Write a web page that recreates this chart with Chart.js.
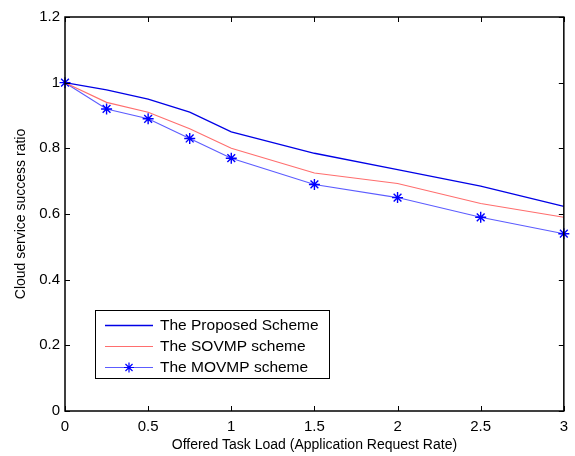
<!DOCTYPE html>
<html lang="en">
<head>
  <meta charset="UTF-8" />
  <title>Cloud service success ratio</title>
  <script src="https://cdn.jsdelivr.net/npm/chart.js"></script>
  <style>
    html, body {
      margin: 0;
      padding: 0;
      background: #fff;
    }
    .chart-wrapper {
      width: 575px;
      height: 456px;
      position: relative;
    }
  </style>
</head>
<body>
  <div class="chart-wrapper">
    <canvas id="ratioChart"></canvas>
  </div>

  <script>
    // values
    const loads = [0, 0.25, 0.5, 0.75, 1, 1.5, 2, 2.5, 3];
    const proposed = [1, 0.978, 0.95, 0.91, 0.85, 0.785, 0.735, 0.685, 0.623];
    const sovmp = [1, 0.94, 0.91, 0.86, 0.80, 0.725, 0.693, 0.632, 0.59];
    const movmp = [1, 0.92, 0.89, 0.83, 0.77, 0.69, 0.65, 0.59, 0.54];
    const xTicks = [0, 0.5, 1, 1.5, 2, 2.5, 3];
    const yTicks = [0, 0.2, 0.4, 0.6, 0.8, 1, 1.2];

    const font = "'Liberation Sans', Arial, sans-serif";

    function toPoints(ys) {
      return loads.map((x, i) => ({ x: x, y: ys[i] }));
    }

    // MATLAB-like box with inward ticks on all four sides
    const boxPlugin = {
      id: 'box',
      afterDraw(chart) {
        const { ctx, chartArea: a, scales } = chart;
        ctx.save();
        ctx.strokeStyle = '#000';
        ctx.lineWidth = 1.5;
        ctx.strokeRect(a.left, a.top, a.right - a.left, a.bottom - a.top);
        ctx.lineWidth = 1;
        ctx.beginPath();
        xTicks.forEach(v => {
          const px = Math.round(scales.x.getPixelForValue(v)) + 0.5;
          ctx.moveTo(px, a.bottom);
          ctx.lineTo(px, a.bottom - 5);
          ctx.moveTo(px, a.top);
          ctx.lineTo(px, a.top + 5);
        });
        yTicks.forEach(v => {
          const py = Math.round(scales.y.getPixelForValue(v)) + 0.5;
          ctx.moveTo(a.left, py);
          ctx.lineTo(a.left + 5, py);
          ctx.moveTo(a.right, py);
          ctx.lineTo(a.right - 5, py);
        });
        ctx.stroke();
        ctx.restore();
      }
    };

    // legend box drawn inside the plot, lower left
    const legendPlugin = {
      id: 'boxLegend',
      afterDraw(chart) {
        const { ctx } = chart;
        const bx = 95, by = 310, bw = 234, bh = 68;
        ctx.save();
        ctx.fillStyle = '#fff';
        ctx.fillRect(bx, by, bw, bh);
        ctx.strokeStyle = '#000';
        ctx.lineWidth = 1;
        ctx.strokeRect(bx + 0.5, by + 0.5, bw, bh);
        ctx.font = '15.5px ' + font;
        ctx.textBaseline = 'middle';
        const rows = [325, 346, 367];
        chart.data.datasets.forEach((ds, i) => {
          const y = rows[i] + 0.5;
          ctx.strokeStyle = ds.borderColor;
          ctx.lineWidth = ds.borderWidth;
          ctx.beginPath();
          ctx.moveTo(105, y);
          ctx.lineTo(153, y);
          ctx.stroke();
          if (ds.pointStyle === 'star') {
            ctx.strokeStyle = ds.pointBorderColor;
            ctx.lineWidth = 1.2;
            const r = 5;
            ctx.beginPath();
            for (let k = 0; k < 4; k++) {
              const ang = k * Math.PI / 4;
              ctx.moveTo(129 - r * Math.cos(ang), y - r * Math.sin(ang));
              ctx.lineTo(129 + r * Math.cos(ang), y + r * Math.sin(ang));
            }
            ctx.stroke();
          }
          ctx.fillStyle = '#000';
          ctx.fillText(ds.label, 160, rows[i] + 1);
        });
        ctx.restore();
      }
    };

    const chart = new Chart(document.getElementById('ratioChart'), {
      type: 'line',
      data: {
        datasets: [{
          label: 'The Proposed Scheme',
          data: toPoints(proposed),
          borderColor: '#0000e6',
          borderWidth: 1.3,
          pointRadius: 0,
          tension: 0
        }, {
          label: 'The SOVMP scheme',
          data: toPoints(sovmp),
          borderColor: '#ff6e6e',
          borderWidth: 1.1,
          pointRadius: 0,
          tension: 0
        }, {
          label: 'The MOVMP scheme',
          data: toPoints(movmp),
          borderColor: '#5c5cff',
          borderWidth: 1.1,
          pointStyle: 'star',
          pointRadius: 5.5,
          pointBorderColor: '#0000ff',
          pointBackgroundColor: '#0000ff',
          pointBorderWidth: 1.4,
          tension: 0
        }]
      },
      options: {
        responsive: true,
        maintainAspectRatio: false,
        animation: false,
        clip: false,
        layout: { padding: { top: 17, right: 8, left: 0, bottom: 0 } },
        plugins: {
          legend: { display: false },
          tooltip: { enabled: false }
        },
        scales: {
          x: {
            type: 'linear',
            min: 0,
            max: 3,
            afterFit(scale) { scale.height = 45; },
            afterBuildTicks(scale) { scale.ticks = xTicks.map(v => ({ value: v })); },
            grid: { display: false, drawTicks: false },
            border: { display: false },
            ticks: {
              color: '#000',
              padding: 7,
              maxRotation: 0,
              font: { family: font, size: 15 },
              callback: v => String(v)
            },
            title: {
              display: true,
              text: 'Offered Task Load (Application Request Rate)',
              color: '#000',
              padding: { top: 2, bottom: 2 },
              font: { family: font, size: 14 }
            }
          },
          y: {
            min: 0,
            max: 1.2,
            afterFit(scale) { scale.width = 65; },
            afterBuildTicks(scale) { scale.ticks = yTicks.map(v => ({ value: v })); },
            grid: { display: false, drawTicks: false },
            border: { display: false },
            ticks: {
              color: '#000',
              padding: 5,
              font: { family: font, size: 15 },
              callback: v => String(v)
            },
            title: {
              display: true,
              text: 'Cloud service success ratio',
              color: '#000',
              padding: { top: 13, bottom: 13 },
              font: { family: font, size: 14 }
            }
          }
        }
      },
      plugins: [boxPlugin, legendPlugin]
    });
  </script>
</body>
</html>
